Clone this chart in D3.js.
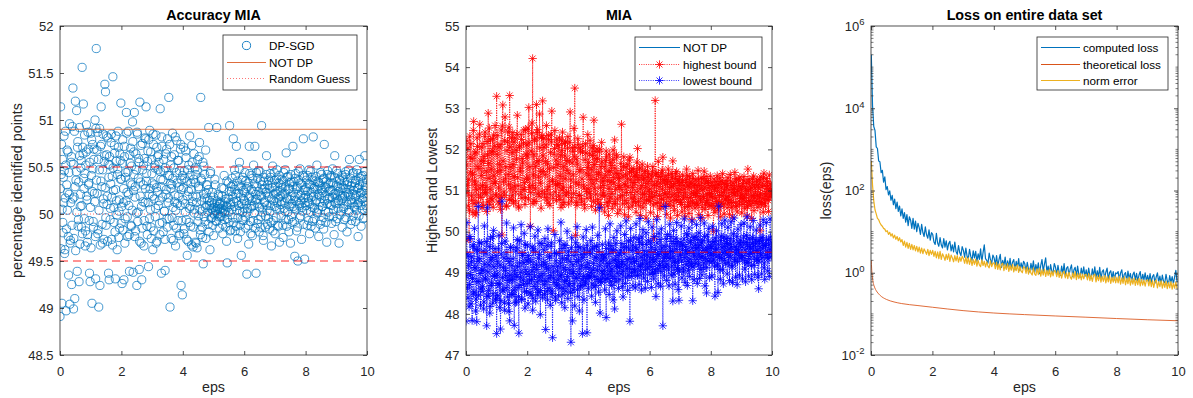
<!DOCTYPE html>
<html>
<head>
<meta charset="utf-8">
<script src="https://cdn.jsdelivr.net/npm/d3@7"></script>
<style>
  body { margin: 0; background: #fff; }
  svg { display: block; font-family: "Liberation Sans", Arial, Helvetica, sans-serif; }
</style>
</head>
<body>
<svg id="fig" width="1193" height="398"></svg>
<script>
// ---------- data ----------
const epsTicks = [0, 2, 4, 6, 8, 10];
const accTicks = [48.5, 49, 49.5, 50, 50.5, 51, 51.5, 52];
const miaTicks = [47, 48, 49, 50, 51, 52, 53, 54, 55];
const lossTicks = [1e-2, 1e0, 1e2, 1e4, 1e6];

// MIA accuracy (%) of DP-SGD runs, one per eps on an even grid 0..10
const accuracy = [
  48.91,50.27,51.14,49.63,50.42,50.74,49.05,50.05,50.58,49.91,49.80,50.39,50.12,50.83,50.46,49.58,49.62,50.17,50.88,50.52,48.97,49.84,50.31,50.68,50.04,50.23,50.66,49.76,49.35,50.44,50.21,50.96,49.04,49.69,49.72,50.12,50.55,50.61,49.25,49.88,
  50.93,50.16,51.34,50.53,48.99,49.74,50.18,50.88,49.10,50.29,51.20,49.61,50.36,50.45,51.10,50.02,49.39,50.71,50.77,49.87,49.94,50.34,49.28,50.92,50.62,49.68,50.08,50.21,50.49,50.57,49.86,50.09,51.56,49.79,50.71,50.64,51.17,50.38,50.27,49.95,
  50.84,50.43,49.66,49.82,50.52,50.66,50.95,50.19,50.15,49.70,49.78,50.87,50.69,50.31,50.33,49.93,49.37,50.55,49.28,50.07,50.86,49.64,50.41,50.79,49.05,50.24,50.74,50.48,49.92,49.86,50.58,50.69,50.22,50.13,51.00,49.76,49.31,50.91,51.76,50.36,
  50.68,50.22,50.87,49.79,49.83,50.58,49.01,50.04,50.47,50.91,49.24,49.67,50.72,50.35,51.14,50.74,50.29,49.89,49.69,50.47,50.85,50.16,50.11,49.73,50.56,50.62,51.38,50.28,51.30,49.96,49.88,50.83,50.63,50.10,50.19,49.71,50.81,50.53,49.37,50.39,
  49.30,50.61,50.52,49.94,50.06,50.32,50.76,50.85,49.73,50.18,50.40,49.67,51.46,50.49,50.25,50.07,49.91,50.73,50.65,49.81,49.31,50.26,50.83,50.56,50.14,49.99,49.62,50.42,50.48,50.88,50.71,49.75,50.03,50.15,49.85,50.64,50.57,50.37,51.18,49.90,
  50.37,50.08,49.26,50.54,50.79,49.83,50.12,50.27,49.30,50.72,50.61,49.69,49.95,50.39,50.44,50.14,51.08,50.86,50.23,49.97,49.76,50.45,50.88,50.21,50.09,49.78,49.39,50.63,50.54,50.33,50.70,49.88,49.87,50.51,50.31,50.04,50.98,50.77,49.38,50.25,
  50.66,50.42,51.08,49.76,50.18,50.29,49.82,50.64,50.47,50.01,49.24,50.87,50.85,49.92,50.02,50.38,50.59,50.55,49.41,49.71,51.19,50.19,50.34,50.73,49.69,50.08,49.30,49.85,50.75,50.47,50.13,50.31,50.52,49.66,49.93,50.59,50.81,50.12,50.27,50.80,
  51.14,50.35,50.43,49.87,49.78,50.56,50.67,50.12,49.44,50.79,50.21,49.95,50.89,50.27,50.05,50.66,49.86,49.74,50.58,50.43,50.33,50.19,49.62,50.85,50.74,49.82,50.16,50.31,50.49,50.52,49.97,50.06,50.84,49.69,50.28,50.71,49.71,50.24,50.61,50.47,
  50.09,50.63,50.55,50.14,49.90,49.78,51.12,50.45,50.37,50.29,49.37,50.82,50.72,49.91,50.18,50.36,49.81,50.58,50.46,50.03,50.03,49.73,49.40,50.49,50.64,50.21,50.26,50.69,49.95,49.86,50.80,50.41,50.12,50.17,51.24,49.95,50.41,50.74,49.01,50.32,
  50.52,50.27,49.74,50.61,50.31,49.96,50.86,50.38,50.07,49.72,49.88,50.49,50.63,50.13,50.20,50.82,49.66,50.04,50.44,49.85,50.78,50.33,50.11,50.57,49.93,50.19,50.57,49.77,50.29,50.46,49.79,50.09,50.69,50.74,49.24,50.26,50.36,49.93,49.14,50.41,
  50.15,50.28,50.71,49.79,49.84,50.46,50.38,50.11,50.02,50.67,50.60,49.94,49.73,50.35,49.56,50.19,50.47,49.71,50.24,50.52,49.91,50.06,50.83,50.41,50.08,49.87,50.33,50.26,49.67,50.73,50.55,50.13,50.19,49.65,49.86,50.37,50.64,50.01,50.05,50.49,
  49.70,50.33,50.42,49.69,50.12,50.18,49.64,50.47,50.58,49.92,49.98,50.29,50.27,50.61,50.76,50.05,49.83,49.78,51.24,50.38,50.36,50.14,50.03,49.86,49.75,50.55,49.47,50.21,50.51,49.97,50.17,50.42,49.92,50.07,50.68,49.74,50.22,50.31,50.09,50.16,
  50.31,50.02,49.89,50.26,50.92,49.81,50.14,50.09,49.62,50.43,50.45,49.95,50.06,50.12,49.96,50.05,50.23,49.88,50.01,50.18,49.77,50.07,50.11,49.99,50.37,50.31,50.04,50.03,49.93,49.92,50.92,50.14,50.08,50.06,50.00,50.21,50.19,49.97,49.85,50.10,
  50.05,50.11,50.12,49.98,49.97,50.06,50.28,50.19,50.02,49.89,49.79,50.04,50.09,50.27,50.41,50.01,49.94,50.13,50.03,49.86,50.16,50.08,49.71,50.35,49.48,49.95,50.07,50.17,50.33,50.02,49.91,50.24,50.94,49.82,50.10,50.12,49.83,50.29,50.24,50.05,
  50.38,50.19,49.96,50.31,50.80,49.91,50.13,50.08,50.47,50.26,49.82,50.41,50.21,49.87,50.72,50.14,50.04,50.35,49.74,49.96,50.30,50.22,50.09,50.48,50.55,50.03,49.88,49.81,50.18,50.29,49.56,50.11,50.36,49.94,50.02,50.39,50.25,50.16,49.93,50.06,
  50.14,50.23,50.44,49.97,49.85,50.35,50.27,50.11,49.36,50.02,50.06,50.29,50.33,49.88,49.68,50.17,50.72,50.43,50.19,50.06,49.92,49.79,50.41,50.26,50.08,50.14,49.77,50.38,50.24,49.93,50.52,50.09,50.01,50.32,50.72,49.85,50.15,50.21,49.37,50.44,
  50.29,50.16,49.90,50.38,50.11,49.94,50.46,50.24,49.81,50.07,50.20,50.45,50.35,49.86,49.97,50.19,50.94,50.31,50.07,50.02,50.26,49.77,49.72,50.35,50.39,50.13,50.12,50.27,49.86,49.98,50.23,50.42,50.62,50.09,50.04,49.89,50.31,50.22,49.95,50.36,
  50.18,50.27,49.84,50.03,50.43,50.39,50.09,49.91,49.66,50.16,50.28,50.33,50.51,49.82,49.93,50.21,50.14,50.44,50.36,50.08,49.79,50.29,50.22,49.96,50.06,50.37,50.47,50.12,49.88,50.24,50.17,49.87,50.33,50.41,49.70,50.05,50.25,50.19,50.10,50.31,
  49.98,50.13,50.37,50.28,50.21,49.88,49.75,50.35,50.44,50.06,50.12,50.22,50.03,50.47,50.29,49.94,50.65,50.17,49.87,50.39,50.16,50.02,50.40,50.26,49.94,49.81,50.27,50.33,50.08,50.15,49.69,50.42,50.34,49.97,50.19,50.11,49.91,50.29,50.72,50.08,
  50.23,50.34,50.06,49.92,49.55,50.18,50.38,50.43,50.14,50.05,49.82,50.27,50.29,49.86,49.50,50.21,50.45,50.36,50.11,50.09,49.96,50.48,50.33,49.98,50.20,50.14,49.73,50.31,50.07,50.03,50.41,50.25,50.80,49.89,50.17,50.39,49.52,50.12,50.26,50.20,
  50.09,50.28,50.36,50.04,49.88,50.41,50.24,50.17,50.13,49.93,50.47,50.32,49.79,50.11,50.31,50.45,50.02,49.87,50.18,50.23,50.39,50.07,49.92,50.36,50.82,50.19,50.27,49.95,50.06,50.29,49.85,50.13,50.35,50.40,50.15,50.02,50.52,50.26,50.01,50.34,
  50.21,50.05,49.76,50.33,50.30,50.19,50.12,49.89,50.44,50.27,49.93,50.42,50.25,50.08,50.08,50.23,50.37,49.96,49.84,50.38,50.74,50.14,50.19,50.29,50.03,49.91,50.28,50.35,49.70,50.11,50.42,50.46,50.16,50.02,50.32,50.24,49.97,50.17,50.10,50.39,
  50.26,50.33,50.41,50.09,49.90,50.25,50.18,50.48,50.33,49.97,50.05,50.21,49.78,50.39,50.62,50.12,50.22,49.92,50.11,50.30,50.46,50.17,49.95,50.43,50.29,50.06,50.14,50.24,49.69,50.36,50.37,49.99,50.20,50.27,50.03,50.14,50.31,50.41,49.86,50.19,
  50.17,50.28,50.39,50.06,50.08,50.35,49.94,50.19,50.27,50.42,50.45,49.96,50.13,50.23,49.81,50.31,50.34,50.10,50.21,50.47,50.04,50.02,50.58,50.26,50.19,50.38,49.89,50.15,50.30,49.93,50.12,50.33,50.43,50.21,49.98,50.44,50.25,50.08,50.07,50.29,
  50.33,50.18,49.92,50.36,50.20,50.04,50.47,50.27,50.10,50.43,49.76,50.12,50.28,49.98,50.58,50.31,50.15,50.22,50.38,50.09,49.87,50.40,50.23,50.16,50.05,50.34,50.41,49.95,50.18,50.25,49.96,50.45,50.62,50.13,50.30,50.28,50.09,50.37,50.22,50.06
];
const notDpAccuracy = 50.9;
const randomGuess = 50;
const guessBand = [49.5, 50.5];

// Highest / lowest bound of the MIA, one per eps on an even grid 0..10
const highestBound = [
  49.80,51.62,52.21,50.94,51.13,52.03,50.62,51.27,49.82,50.52,52.32,51.81,51.44,52.14,50.87,50.76,51.78,51.39,50.46,52.46,52.68,50.68,51.23,51.91,50.41,51.15,51.94,50.47,51.02,52.28,52.07,51.58,50.71,50.89,51.53,52.37,52.61,51.06,50.83,51.72,
  51.36,52.05,50.58,51.12,52.14,50.64,51.71,51.83,50.93,52.31,52.42,50.95,51.08,51.47,50.49,52.19,51.87,50.72,52.88,51.66,51.29,52.52,50.66,51.03,52.23,50.81,51.52,51.94,50.77,52.26,51.96,50.59,52.35,51.35,51.17,52.08,52.58,51.21,50.91,50.86,
  53.29,51.88,51.45,52.34,50.72,51.06,52.06,50.67,51.63,52.12,50.54,51.49,52.47,50.83,49.92,52.57,53.08,51.72,51.21,50.96,50.88,52.21,52.79,51.28,51.58,50.61,50.63,51.97,52.18,52.43,51.39,51.14,52.54,50.78,53.31,52.06,51.04,51.57,50.76,52.29,
  51.92,50.87,52.41,51.63,50.69,52.18,51.34,51.09,52.27,50.74,50.97,51.98,51.76,52.37,52.83,51.31,51.12,50.62,50.58,52.05,52.09,51.46,51.55,50.91,52.36,52.24,50.81,51.78,51.67,51.02,52.15,52.47,51.03,51.19,50.66,50.83,52.48,51.88,51.29,52.11,
  51.84,51.26,52.52,50.79,53.02,52.16,51.07,51.58,50.13,50.95,51.96,52.39,52.64,51.12,54.21,50.68,51.38,51.87,50.74,52.22,52.27,51.04,51.59,50.73,53.09,51.69,52.41,52.48,50.92,51.33,51.73,50.86,52.86,52.04,51.18,51.47,50.57,52.29,52.33,50.97,
  53.18,51.84,51.46,52.27,52.05,50.92,50.83,51.38,51.71,52.11,52.58,50.77,51.02,51.65,50.69,52.34,52.24,51.09,51.53,50.64,50.91,51.93,52.37,52.18,52.93,51.22,51.26,50.81,50.02,51.56,51.88,52.02,52.46,50.96,51.14,51.74,50.75,52.25,52.12,51.13,
  51.63,52.09,50.86,51.17,52.28,50.78,51.35,51.86,50.59,52.22,51.97,51.01,52.42,50.65,51.08,51.59,50.71,52.14,51.84,51.28,52.19,50.87,50.94,51.73,51.49,52.03,52.31,50.96,50.67,51.42,51.72,52.17,52.91,51.08,51.26,50.74,50.83,51.67,52.04,51.95,
  51.38,50.93,52.51,51.82,53.49,52.05,49.91,51.19,51.77,50.71,50.64,51.64,52.26,52.12,51.15,50.88,50.88,51.47,52.03,51.96,51.51,50.79,50.72,51.28,51.93,52.08,52.78,51.13,51.06,50.66,50.57,51.75,52.14,51.91,51.42,50.97,50.81,51.56,52.36,51.04,
  51.68,51.37,50.93,51.89,52.22,50.82,51.27,51.52,50.61,52.04,51.85,51.16,52.09,50.73,52.71,51.63,51.04,51.95,50.52,50.91,51.76,51.26,52.01,51.78,50.78,50.69,51.39,51.44,51.94,52.01,50.66,51.07,51.58,50.58,52.17,51.69,50.87,51.22,51.31,50.94,
  51.12,51.58,50.48,50.87,51.73,51.36,51.96,51.82,50.71,50.62,51.24,51.47,50.39,51.05,51.88,50.74,51.47,51.69,50.82,51.21,51.61,50.93,50.56,51.75,51.99,51.32,51.18,50.68,52.23,51.54,50.67,51.03,51.42,51.87,51.81,50.79,50.44,51.41,51.29,51.12,
  51.07,51.31,50.53,50.84,51.66,51.49,52.61,51.02,50.88,50.67,51.35,51.58,51.82,51.16,50.41,50.76,51.13,51.38,51.57,50.95,50.69,51.64,51.28,51.09,50.36,50.58,51.74,51.43,51.81,51.26,50.95,50.81,51.46,51.52,50.62,51.07,51.19,50.72,51.53,51.34,
  50.84,51.19,51.38,50.72,50.47,51.43,51.69,50.96,52.02,51.31,50.73,50.63,51.26,51.52,51.55,51.04,50.39,50.81,51.12,51.37,51.64,50.92,50.58,51.26,51.31,50.69,50.91,51.46,51.48,51.08,50.33,50.77,51.17,51.33,51.59,50.98,50.76,51.41,51.22,50.86,
  51.04,50.73,50.46,51.28,51.37,50.94,50.82,51.47,51.58,50.65,49.84,51.12,51.15,50.86,53.19,51.39,50.68,50.97,51.43,51.21,50.37,50.71,51.71,51.34,51.09,50.88,50.55,51.18,51.33,50.62,50.79,51.43,51.49,51.03,51.81,50.79,50.62,51.27,51.24,50.93,
  50.91,51.14,51.36,50.69,50.42,51.27,51.18,50.83,51.52,51.38,50.64,50.96,51.07,51.22,50.33,50.74,51.41,51.09,50.86,51.31,51.72,50.62,51.13,51.17,50.51,50.91,51.29,51.42,50.78,50.76,51.46,51.04,50.39,51.26,51.21,50.85,50.95,51.13,51.34,50.71,
  50.72,51.02,51.19,50.66,50.48,51.24,51.38,50.79,50.87,51.13,51.04,50.58,50.36,50.94,51.27,51.19,51.52,50.83,50.61,51.36,51.11,50.71,50.44,51.08,51.33,50.62,50.83,51.21,51.16,50.96,50.29,50.74,51.41,51.29,50.92,50.68,51.08,51.15,50.57,50.87,
  51.26,50.93,50.68,51.12,50.98,50.64,51.49,51.26,50.41,50.85,51.13,51.03,50.79,50.72,51.31,51.18,50.33,50.59,51.02,51.29,50.86,50.81,51.47,51.07,50.54,50.67,51.18,51.34,50.71,50.91,51.24,50.76,50.39,51.21,51.06,50.63,50.93,51.11,51.35,50.86,
  50.62,50.94,51.19,50.68,50.84,51.12,50.01,50.57,51.28,51.03,50.47,50.82,51.07,51.22,50.73,50.64,51.36,50.98,50.52,51.15,51.14,50.73,50.88,51.31,50.36,50.61,51.23,51.06,50.69,50.87,51.41,51.19,50.95,50.66,50.43,51.01,51.16,50.79,50.77,51.24,
  51.08,50.84,50.58,51.13,51.31,50.69,50.86,51.02,50.42,50.77,51.39,51.23,50.71,50.58,51.12,50.95,50.35,51.18,51.03,50.71,50.92,51.06,51.44,50.88,50.61,51.29,51.21,50.63,50.48,50.97,50.99,51.11,51.27,50.74,50.67,51.32,51.09,50.86,50.81,51.04,
  50.45,50.91,51.17,50.66,50.79,51.24,51.34,50.83,50.56,51.08,51.02,50.72,50.91,51.19,50.38,50.61,51.52,50.99,50.73,51.27,51.21,50.76,50.64,51.03,51.08,50.87,50.32,51.16,51.29,50.69,50.87,51.35,50.51,50.82,51.13,51.06,50.96,50.74,50.69,51.21,
  51.26,50.88,50.59,51.14,51.07,50.73,50.84,51.26,50.02,50.92,51.33,50.66,50.71,51.09,51.18,50.81,50.47,51.31,51.42,50.69,50.93,51.12,50.62,50.87,51.29,50.98,50.78,51.22,51.11,50.76,50.49,51.05,51.38,50.84,50.86,51.17,51.04,50.91,50.95,51.02
];
const lowestBound = [
  47.82,48.92,50.22,49.46,48.63,48.38,49.41,49.17,48.17,48.71,49.88,49.83,48.95,48.24,49.27,49.39,47.84,48.86,49.63,49.68,48.48,48.53,50.08,49.12,49.12,48.07,48.36,49.57,47.81,48.79,49.55,49.28,50.61,48.45,48.79,49.74,49.34,48.98,48.21,48.61,
  49.72,49.07,48.54,48.66,49.06,49.53,48.12,48.29,50.14,49.21,48.87,48.84,49.48,49.76,47.71,48.43,50.58,49.02,48.43,48.57,49.19,49.64,48.02,48.18,49.84,49.31,48.69,48.75,49.37,49.88,48.26,48.49,50.03,49.14,48.91,48.93,49.59,48.34,48.38,49.42,
  47.52,48.97,49.28,48.44,48.74,49.58,49.91,48.71,48.15,49.19,47.63,48.32,49.46,49.71,50.74,48.88,48.58,48.56,49.13,49.36,48.27,48.09,49.77,49.05,48.92,48.63,50.21,49.49,48.41,48.81,49.35,48.25,48.06,49.27,47.83,48.94,49.62,49.62,48.83,48.47,
  49.18,48.83,48.47,49.34,50.09,48.58,47.72,49.06,48.96,48.27,49.53,49.62,48.29,48.91,49.81,49.15,48.64,48.42,47.53,49.78,49.24,48.69,48.88,49.01,50.17,48.36,48.35,49.47,49.42,48.82,48.71,49.24,49.96,48.55,48.14,49.69,49.07,48.97,48.53,49.29,
  49.67,48.74,48.24,49.42,49.33,48.96,48.82,48.51,50.12,49.27,48.46,48.83,49.04,49.63,48.09,48.38,49.58,49.14,48.67,48.92,49.89,49.51,48.31,48.61,49.21,49.08,48.78,48.46,50.04,49.35,48.52,48.89,49.44,49.72,47.98,48.57,48.93,49.18,49.71,48.81,
  48.39,48.98,49.26,49.56,48.71,48.47,49.83,49.21,47.62,48.79,49.12,49.67,48.56,48.34,50.07,49.09,48.87,48.62,49.38,49.41,48.21,48.93,49.64,49.73,48.49,48.56,47.42,49.16,49.02,48.87,48.76,49.48,49.93,48.41,48.33,49.29,49.47,48.72,48.68,49.04,
  49.16,48.83,48.44,49.47,49.78,48.62,48.92,49.24,50.23,48.95,48.27,49.59,49.35,48.48,48.63,49.12,49.69,48.79,48.15,49.66,49.07,48.55,48.81,49.33,50.01,48.91,48.37,49.42,49.52,48.68,48.74,49.07,49.28,48.52,47.31,49.61,49.85,48.98,47.83,49.19,
  48.58,49.02,49.42,48.73,48.19,49.51,49.73,48.88,48.86,49.27,50.12,48.59,48.42,49.64,49.31,48.97,48.07,49.09,49.61,48.66,48.69,49.45,49.18,48.82,47.52,49.36,49.87,48.91,48.34,49.58,49.46,48.71,48.77,49.13,50.05,48.86,47.54,49.67,49.24,48.94,
  48.61,49.12,49.53,48.88,48.92,49.47,49.78,49.01,48.43,48.73,50.11,49.58,49.07,49.23,48.65,48.91,49.64,49.38,48.28,48.69,49.36,49.65,48.84,49.06,49.91,48.84,48.53,49.52,50.58,49.17,48.02,48.79,49.29,49.43,48.76,49.02,49.69,48.87,48.97,49.34,
  49.44,49.06,48.58,49.38,50.07,48.84,47.91,49.59,49.23,49.14,48.86,48.96,49.72,49.47,48.47,49.23,50.19,48.78,49.03,49.66,48.69,49.09,49.57,48.91,48.34,49.54,49.86,49.31,48.12,48.86,49.31,49.72,48.78,49.18,50.02,48.99,49.15,49.42,48.62,49.27,
  49.48,49.13,48.83,49.55,50.14,48.97,49.21,49.71,48.66,49.28,48.41,49.04,49.62,49.46,49.93,49.19,48.74,48.88,50.26,49.63,49.09,49.32,48.57,48.94,49.77,49.58,49.35,49.11,47.82,49.79,50.08,49.24,48.91,49.01,49.54,49.67,48.68,49.36,49.86,49.08,
  49.27,49.04,48.63,49.61,50.19,49.29,49.58,48.93,48.94,49.47,49.83,49.16,48.71,49.74,50.32,49.05,49.16,49.38,48.58,49.87,49.69,49.21,50.05,48.97,48.87,49.54,49.43,49.31,48.62,49.08,49.97,49.69,49.21,49.43,48.79,49.12,50.24,49.78,49.52,49.26,
  48.96,49.37,49.74,49.15,48.64,49.62,50.11,49.01,49.33,49.49,48.85,49.26,49.88,48.98,49.07,49.57,48.42,49.33,50.29,49.72,49.45,49.09,48.73,49.44,49.96,49.19,49.18,49.81,48.67,49.03,50.07,49.51,49.61,49.27,47.71,49.13,49.39,49.66,48.92,49.36,
  50.61,49.48,49.14,49.83,48.81,49.21,49.93,49.45,49.36,49.07,48.68,49.63,50.18,49.34,49.52,49.88,48.94,49.16,49.76,49.52,48.31,49.39,50.03,48.97,49.27,49.71,48.72,49.25,49.84,49.57,50.22,49.12,49.08,49.76,48.59,49.31,48.33,49.04,49.65,49.44,
  49.41,49.73,50.14,49.28,48.87,49.56,49.69,49.11,49.02,49.82,50.31,49.37,48.76,49.64,49.53,49.19,49.95,49.47,48.69,49.92,49.28,49.06,50.09,49.53,48.91,49.33,49.74,49.78,49.17,49.22,50.26,49.61,48.32,49.14,49.46,49.86,48.83,49.41,49.88,49.68,
  49.23,49.58,50.17,49.33,48.74,49.81,49.61,49.19,49.97,49.46,48.86,49.67,50.34,49.08,49.38,49.74,48.95,49.39,49.79,49.55,49.12,49.24,50.21,49.88,48.68,49.35,49.55,49.62,48.51,49.13,49.92,49.49,49.29,49.77,50.08,49.28,48.88,49.59,49.67,49.42,
  49.45,49.63,48.92,49.27,50.13,49.74,49.31,49.48,49.76,49.16,48.43,49.85,49.58,49.39,50.02,49.57,49.16,49.22,48.52,49.69,50.62,49.44,49.37,49.08,48.84,49.78,49.89,49.35,50.19,49.61,49.07,49.49,48.73,49.87,49.64,49.31,50.28,49.53,49.21,49.72,
  49.83,49.46,48.97,49.71,50.11,49.24,49.42,49.58,48.81,49.83,49.69,49.37,50.24,49.62,49.14,49.18,48.76,49.51,49.95,49.77,50.33,49.33,49.28,49.64,48.89,49.45,49.57,49.89,48.71,49.27,50.06,49.55,49.48,49.73,48.94,49.36,49.79,49.68,50.17,49.42,
  49.36,49.62,48.85,49.41,49.74,49.87,50.21,49.29,49.09,49.56,48.78,49.74,49.91,49.23,50.36,49.68,49.25,49.45,48.92,49.83,49.63,49.34,50.12,49.59,49.47,49.17,48.83,49.72,49.86,49.49,50.27,49.64,49.18,49.38,48.96,49.81,49.71,49.53,50.04,49.31,
  49.32,49.54,48.89,49.76,48.61,49.28,49.78,49.63,50.16,49.47,49.43,49.85,48.97,49.36,49.85,49.58,50.29,49.71,49.12,49.24,48.84,49.66,49.66,49.43,50.22,49.79,49.37,49.52,49.04,49.34,49.81,49.69,48.91,49.48,50.31,49.87,49.56,49.39,49.73,49.61
];
const notDpMia = 50.9;

// Loss on the entire data set, one per eps from 0.01 in steps of 0.04
const computedLoss = [
  200000,11500,3600,2900,1150,1050,520,500,270,310,160,215,105,125,78,98,58,76,45,62,36,52,31,42,24,
  36,21,29,17,26,14,23,19,12,21,11.5,18,10,16,12.5,8.6,15,9.5,7.6,13,8.4,6.9,11,6.2,9.4,
  8.6,5.6,4.9,9.1,5.3,4.4,7.2,4.7,4.0,6.8,4.2,6.0,3.6,5.1,5.8,3.4,4.8,3.2,5.6,3.3,2.8,4.6,3.1,2.6,4.3,
  3.5,2.4,4.0,2.5,2.2,3.7,2.5,2.0,3.4,2.3,3.3,1.9,2.9,2.1,3.8,1.8,3.1,4.8,2.2,2.0,1.7,3.0,2.1,1.65,2.7,
  2.3,1.55,2.6,1.45,2.1,2.8,1.35,2.0,1.5,2.4,1.28,1.95,1.4,2.25,1.22,1.8,2.1,1.18,1.9,1.35,2.2,1.12,1.75,1.27,1.9,
  1.65,1.08,1.8,1.22,1.04,1.7,1.17,1.95,1.0,1.58,1.12,1.75,0.95,1.52,2.1,1.08,1.62,2.3,1.04,1.46,0.95,1.58,1.08,1.0,1.68,
  1.36,0.9,1.52,0.99,0.86,1.46,0.94,1.68,0.81,1.3,1.4,0.86,1.24,1.56,0.8,1.18,1.35,0.83,1.46,0.9,0.77,1.3,0.88,1.4,0.81,
  1.18,0.77,1.3,0.86,0.72,1.24,0.81,1.4,0.74,1.12,0.79,1.35,0.7,1.07,1.18,0.72,1.03,1.3,0.68,1.01,1.12,0.74,1.07,0.67,0.99,
  0.95,1.07,0.68,0.99,1.18,0.65,0.92,1.01,0.63,1.1,0.7,0.96,0.61,0.9,1.04,0.67,0.97,0.63,0.88,1.07,0.6,0.92,0.67,0.99,0.63,
  0.86,0.61,0.95,0.58,0.81,0.9,0.56,0.79,0.99,0.59,0.83,0.54,0.88,0.61,0.57,0.92,0.63,0.52,0.85,0.58,0.81,0.54,0.79,1.15,0.59
];
const normError = [
  520,135,56,34,27,21,19.5,16.5,14.5,13.5,12,11.5,10,10.5,8.6,9.6,7.8,8.9,7.0,8.2,6.5,7.6,6.0,7.1,5.6,
  6.4,4.6,5.9,4.2,5.5,3.9,5.2,3.7,4.9,3.6,4.6,3.4,4.4,3.2,4.2,3.0,4.0,2.9,3.8,3.3,2.8,3.7,2.6,3.5,2.8,
  3.5,2.5,3.3,2.3,3.2,2.2,3.3,2.1,2.9,2.5,2.0,2.8,2.1,2.9,1.9,2.7,2.3,1.85,2.6,1.95,2.6,1.8,2.4,1.9,2.5,
  2.2,1.7,2.4,1.65,2.3,1.6,2.25,1.5,2.1,1.6,2.15,1.45,2.0,1.55,1.4,2.05,1.5,1.9,1.38,1.85,1.45,1.32,1.95,1.4,1.7,
  1.75,1.25,1.8,1.2,1.65,1.18,1.6,1.72,1.12,1.55,1.2,1.66,1.08,1.52,1.15,1.6,1.05,1.45,1.12,1.55,1.02,1.42,1.1,1.0,1.4,
  1.32,0.97,1.38,0.92,1.27,0.98,0.88,1.32,0.94,0.86,1.24,0.9,1.3,0.83,1.17,0.88,1.22,0.81,1.15,0.86,1.19,0.79,1.1,0.84,1.13,
  1.08,0.8,1.12,0.77,1.05,0.74,1.01,1.1,0.75,0.99,0.72,1.03,0.78,0.7,0.99,0.74,1.06,0.68,0.95,0.72,0.97,0.67,0.93,0.71,0.9,
  0.91,0.67,0.95,0.64,0.88,0.62,0.86,0.93,0.6,0.84,0.64,0.88,0.59,0.82,0.62,0.86,0.57,0.8,0.6,0.84,0.55,0.77,0.59,0.81,0.57,
  0.78,0.57,0.82,0.53,0.75,0.55,0.8,0.51,0.73,0.54,0.78,0.5,0.71,0.53,0.74,0.49,0.7,0.51,0.73,0.48,0.69,0.5,0.66,0.47,0.65,
  0.67,0.48,0.69,0.46,0.64,0.44,0.62,0.67,0.43,0.61,0.46,0.64,0.42,0.6,0.44,0.62,0.41,0.58,0.43,0.61,0.4,0.56,0.42,0.59,0.41
];
const theoreticalEps  = [0.01, 0.02, 0.04, 0.07, 0.1, 0.15, 0.2, 0.3, 0.5, 0.75, 1, 1.5, 2, 3, 4, 5, 6, 7, 8, 9, 10];
const theoreticalLoss = [2.0, 1.3, 0.85, 0.58, 0.48, 0.39, 0.34, 0.28, 0.225, 0.195, 0.178, 0.16, 0.145, 0.12, 0.105, 0.096, 0.089, 0.083, 0.077, 0.072, 0.068];

// eps grids the series were evaluated on
const epsAcc  = d3.range(accuracy.length).map(i => 10 * i / (accuracy.length - 1));
const epsMia  = d3.range(highestBound.length).map(i => 10 * i / (highestBound.length - 1));
const epsLoss = d3.range(computedLoss.length).map(i => 0.01 + 0.04 * i);

// ---------- styling ----------
const AXC = "#262626";
const C_BLUE = "#0072BD", C_ORANGE = "#D95319", C_YELLOW = "#EDB120";
const TICK_FS = 13, LABEL_FS = 14.3, TITLE_FS = 14.3, LEG_FS = 11.7;

const svg = d3.select("#fig");
svg.append("rect").attr("width", 1193).attr("height", 398).attr("fill", "#fff");

const panels = [
  { x0: 60,  x1: 367,  y0: 26, y1: 355 },
  { x0: 466, x1: 772,  y0: 26, y1: 355 },
  { x0: 871, x1: 1178, y0: 26, y1: 355 }
];

function starPath(s) {
  const d = s * 0.7071;
  return `M${-s},0H${s}M0,${-s}V${s}M${-d},${-d}L${d},${d}M${-d},${d}L${d},${-d}`;
}

function makeClip(id, p) {
  svg.append("clipPath").attr("id", id).append("rect")
    .attr("x", p.x0).attr("y", p.y0).attr("width", p.x1 - p.x0).attr("height", p.y1 - p.y0);
}

function styleAxis(g) {
  g.select(".domain").remove();
  g.selectAll(".tick line").attr("stroke", AXC).attr("stroke-width", 0.8);
  g.selectAll(".tick text").attr("fill", AXC).attr("font-size", TICK_FS)
    .attr("font-family", '"Liberation Sans", Arial, sans-serif');
}

function drawAxes(p, x, y, yTicks, yFmt) {
  const g = svg.append("g");
  g.append("g").attr("transform", `translate(0,${p.y1})`)
    .call(d3.axisBottom(x).tickValues(epsTicks).tickSizeInner(-4).tickSizeOuter(0)
      .tickPadding(11.5).tickFormat(d3.format("d"))).call(styleAxis);
  g.append("g").attr("transform", `translate(0,${p.y0})`)
    .call(d3.axisTop(x).tickValues(epsTicks).tickSizeInner(-4).tickSizeOuter(0).tickFormat(""))
    .call(styleAxis);
  const left = g.append("g").attr("transform", `translate(${p.x0},0)`)
    .call(d3.axisLeft(y).tickValues(yTicks).tickSizeInner(-4).tickSizeOuter(0)
      .tickPadding(6.5).tickFormat(yFmt || (d => String(d)))).call(styleAxis);
  g.append("g").attr("transform", `translate(${p.x1},0)`)
    .call(d3.axisRight(y).tickValues(yTicks).tickSizeInner(-4).tickSizeOuter(0).tickFormat(""))
    .call(styleAxis);
  g.append("rect").attr("x", p.x0).attr("y", p.y0)
    .attr("width", p.x1 - p.x0).attr("height", p.y1 - p.y0)
    .attr("fill", "none").attr("stroke", AXC).attr("stroke-width", 0.8);
  return left;
}

function labels(p, title, xl, yl, ylX) {
  const cx = (p.x0 + p.x1) / 2, cy = (p.y0 + p.y1) / 2;
  svg.append("text").attr("x", cx).attr("y", 19.5).attr("text-anchor", "middle")
    .attr("font-size", TITLE_FS).attr("font-weight", "bold").attr("fill", "#000").text(title);
  svg.append("text").attr("x", cx).attr("y", 392).attr("text-anchor", "middle")
    .attr("font-size", LABEL_FS).attr("fill", AXC).text(xl);
  svg.append("text").attr("transform", `translate(${ylX},${cy}) rotate(-90)`)
    .attr("text-anchor", "middle").attr("font-size", LABEL_FS).attr("fill", AXC).text(yl);
}

function legend(box, entries) {
  const g = svg.append("g");
  g.append("rect").attr("x", box.x).attr("y", box.y).attr("width", box.w).attr("height", box.h)
    .attr("fill", "#fff").attr("stroke", AXC).attr("stroke-width", 0.8);
  entries.forEach((e, i) => {
    const cy = Math.round(box.y + 10 + i * 16.5) + 0.5;   // pixel-aligned sample rows
    const lx0 = box.x + 4, lx1 = box.x + box.sample;
    e.draw(g, lx0, lx1, cy);
    g.append("text").attr("x", lx1 + 3).attr("y", cy).attr("dy", "0.35em")
      .attr("font-size", LEG_FS).attr("fill", "#000").text(e.label);
  });
}

function hLine(g, x0, x1, y, color, width, dash, opacity) {
  return g.append("line").attr("x1", x0).attr("x2", x1).attr("y1", y).attr("y2", y)
    .attr("stroke", color).attr("stroke-width", width)
    .attr("stroke-dasharray", dash || null).attr("stroke-opacity", opacity == null ? 1 : opacity);
}

// ---------- panel 1: Accuracy MIA ----------
{
  const p = panels[0];
  const x = d3.scaleLinear().domain([0, 10]).range([p.x0, p.x1]);
  const y = d3.scaleLinear().domain([48.5, 52]).range([p.y1, p.y0]);
  makeClip("clip1", p);
  const plot = svg.append("g").attr("clip-path", "url(#clip1)");
  plot.append("g").selectAll("circle").data(accuracy).join("circle")
    .attr("cx", (d, i) => x(epsAcc[i])).attr("cy", d => y(d)).attr("r", 4.1)
    .attr("fill", "none").attr("stroke", C_BLUE).attr("stroke-width", 0.9).attr("stroke-opacity", 0.8);
  hLine(plot, p.x0, p.x1, y(notDpAccuracy), C_ORANGE, 1.2, null, 0.6);
  hLine(plot, p.x0, p.x1, y(randomGuess), "#FF0000", 1, "1,2", 0.55);
  guessBand.forEach(v => hLine(plot, p.x0, p.x1, y(v), "#FF0000", 1, "8,5", 0.85));
  drawAxes(p, x, y, accTicks);
  labels(p, "Accuracy MIA", "eps", "percentage identified points", 21.5);
  legend({ x: 223, y: 35, w: 134, h: 55, sample: 43 }, [
    { label: "DP-SGD", draw: (g, a, b, cy) => g.append("circle").attr("cx", (a + b) / 2).attr("cy", cy)
        .attr("r", 4.1).attr("fill", "none").attr("stroke", C_BLUE).attr("stroke-width", 0.9) },
    { label: "NOT DP", draw: (g, a, b, cy) => hLine(g, a, b, cy, C_ORANGE, 1, null, 0.85) },
    { label: "Random Guess", draw: (g, a, b, cy) => hLine(g, a, b, cy, "#FF0000", 1, "1,2", 0.55) }
  ]);
}

// ---------- panel 2: MIA ----------
{
  const p = panels[1];
  const x = d3.scaleLinear().domain([0, 10]).range([p.x0, p.x1]);
  const y = d3.scaleLinear().domain([47, 55]).range([p.y1, p.y0]);
  makeClip("clip2", p);
  const plot = svg.append("g").attr("clip-path", "url(#clip2)");
  hLine(plot, p.x0, p.x1, y(notDpMia), C_BLUE, 0.6, null, 0.5);
  const series = [
    { vals: highestBound, color: "#FF0000" },
    { vals: lowestBound, color: "#0000FF" }
  ];
  series.forEach(s => {
    const line = d3.line().x((d, i) => x(epsMia[i])).y(d => y(d));
    plot.append("path").attr("d", line(s.vals)).attr("fill", "none")
      .attr("stroke", s.color).attr("stroke-width", 0.8).attr("stroke-dasharray", "1.2,1.2");
    plot.append("g").selectAll("path").data(s.vals).join("path")
      .attr("transform", (d, i) => `translate(${x(epsMia[i])},${y(d)})`)
      .attr("d", starPath(4.2)).attr("fill", "none").attr("stroke", s.color)
      .attr("stroke-width", 0.8);
  });
  hLine(plot, p.x0, p.x1, y(guessBand[0]), "#FF0000", 1, "8,5", 0.85);
  drawAxes(p, x, y, miaTicks);
  labels(p, "MIA", "eps", "Highest and Lowest", 437);
  legend({ x: 635, y: 37, w: 127, h: 53, sample: 45 }, [
    { label: "NOT DP", draw: (g, a, b, cy) => hLine(g, a, b, cy, C_BLUE, 1) },
    { label: "highest bound", draw: (g, a, b, cy) => {
        hLine(g, a, b, cy, "#FF0000", 0.8, "1,1.3");
        g.append("path").attr("transform", `translate(${(a + b) / 2},${cy})`).attr("d", starPath(4.2))
          .attr("stroke", "#FF0000").attr("stroke-width", 0.8).attr("fill", "none"); } },
    { label: "lowest bound", draw: (g, a, b, cy) => {
        hLine(g, a, b, cy, "#0000FF", 0.8, "1,1.3");
        g.append("path").attr("transform", `translate(${(a + b) / 2},${cy})`).attr("d", starPath(4.2))
          .attr("stroke", "#0000FF").attr("stroke-width", 0.8).attr("fill", "none"); } }
  ]);
}

// ---------- panel 3: Loss on entire data set ----------
{
  const p = panels[2];
  const x = d3.scaleLinear().domain([0, 10]).range([p.x0, p.x1]);
  const y = d3.scaleLog().domain([1e-2, 1e6]).range([p.y1, p.y0]);
  makeClip("clip3", p);
  const plot = svg.append("g").attr("clip-path", "url(#clip3)");
  const lossLine = d3.line().x((d, i) => x(epsLoss[i])).y(d => y(d));
  plot.append("path").attr("d", lossLine(computedLoss)).attr("fill", "none")
    .attr("stroke", C_BLUE).attr("stroke-width", 1.2).attr("stroke-linejoin", "round");
  const theoLine = d3.line().x((d, i) => x(theoreticalEps[i])).y(d => y(d)).curve(d3.curveMonotoneX);
  plot.append("path").attr("d", theoLine(theoreticalLoss)).attr("fill", "none")
    .attr("stroke", C_ORANGE).attr("stroke-width", 1).attr("stroke-opacity", 0.85);
  plot.append("path").attr("d", lossLine(normError)).attr("fill", "none")
    .attr("stroke", C_YELLOW).attr("stroke-width", 1.2).attr("stroke-linejoin", "round");

  const left = drawAxes(p, x, y, lossTicks, () => "");
  // power-of-ten labels with superscript exponents
  left.selectAll(".tick text").each(function(d) {
    const t = d3.select(this);
    t.text("10");
    t.append("tspan").attr("dy", "-0.55em").attr("font-size", 9.5).text(Math.round(Math.log10(d)));
  });
  // minor ticks of the log axis
  const minor = [];
  for (let k = -2; k < 6; k++) for (let m = 1; m <= 9; m++) {
    const v = m * Math.pow(10, k);
    if (m === 1 && k % 2 === 0) continue;
    minor.push(v);
  }
  const mg = svg.append("g").attr("stroke", AXC).attr("stroke-width", 0.6);
  minor.forEach(v => {
    mg.append("line").attr("x1", p.x0).attr("x2", p.x0 + 2.5).attr("y1", y(v)).attr("y2", y(v));
    mg.append("line").attr("x1", p.x1).attr("x2", p.x1 - 2.5).attr("y1", y(v)).attr("y2", y(v));
  });
  labels(p, "Loss on entire data set", "eps", "loss(eps)", 831);
  legend({ x: 1037, y: 37, w: 131, h: 53, sample: 43 }, [
    { label: "computed loss", draw: (g, a, b, cy) => hLine(g, a, b, cy, C_BLUE, 1) },
    { label: "theoretical loss", draw: (g, a, b, cy) => hLine(g, a, b, cy, C_ORANGE, 1) },
    { label: "norm error", draw: (g, a, b, cy) => hLine(g, a, b, cy, C_YELLOW, 1) }
  ]);
}
</script>
</body>
</html>
